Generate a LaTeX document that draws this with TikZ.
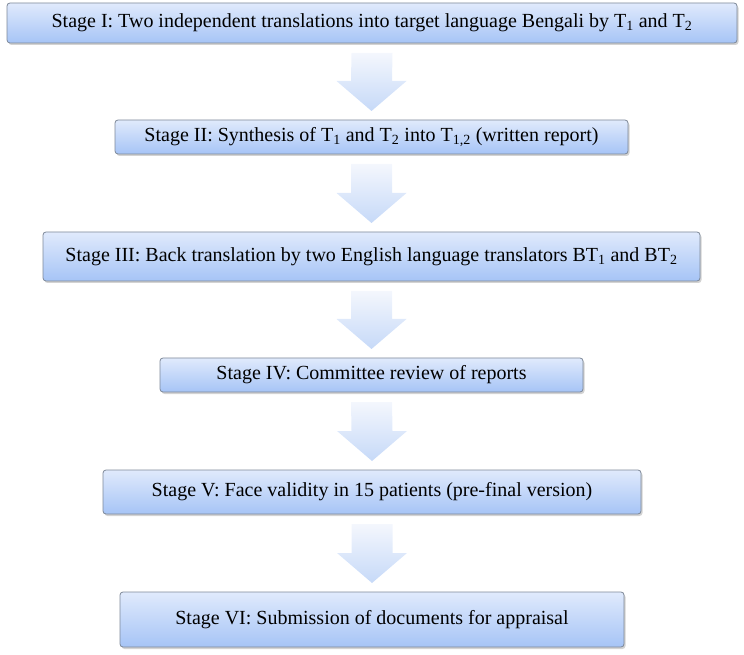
\documentclass[tikz,border=0pt]{standalone}
\usepackage{fontspec}
\setmainfont{Liberation Serif}
\usetikzlibrary{shadows}

\definecolor{boxtop}{HTML}{E0EAFC}
\definecolor{boxbot}{HTML}{A6C4F6}
\definecolor{boxline}{HTML}{7D8898}
\definecolor{arrtop}{HTML}{F4F7FD}
\definecolor{arrbot}{HTML}{C6D9F8}

\begin{document}
\begin{tikzpicture}[
 x=1pt, y=1pt,
 font=\fontsize{20}{23}\selectfont,
 stage/.style = {rectangle, rounded corners=3pt, draw=boxline, line width=0.8pt,
                 top color=boxtop, bottom color=boxbot,% blue gradient of each box
                 drop shadow={shadow xshift=1.5pt, shadow yshift=-2pt, opacity=0.35},
                 inner sep=0pt, outer sep=0pt,
                 minimum width=#1},
 arr/.style   = {top color=arrtop, bottom color=arrbot, draw=none},
                    ]
\useasboundingbox (0,0) rectangle (744,654);
\node[stage=730pt, minimum height=40pt] (s1) at (372,631)
  {Stage I: Two independent translations into target language Bengali by T\textsubscript{1} and T\textsubscript{2}};
\node[stage=513pt, minimum height=34pt] (s2) at (371.5,517)
  {Stage II: Synthesis of T\textsubscript{1} and T\textsubscript{2} into T\textsubscript{1,2} (written report)};
\node[stage=657pt, minimum height=49pt] (s3) at (371.5,397.5)
  {Stage III: Back translation by two English language translators BT\textsubscript{1} and BT\textsubscript{2}};
\node[stage=423pt, minimum height=34pt] (s4) at (371.5,279)
  {Stage IV: Committee review of reports};
\node[stage=538pt, minimum height=44pt] (s5) at (372,162)
  {Stage V: Face validity in 15 patients (pre-final version)};
\node[stage=504pt, minimum height=55pt] (s6) at (372,34.5)
  {Stage VI: Submission of documents for appraisal};
% block arrows between the stages
\foreach \a/\b in {s1/s2,s2/s3,s3/s4,s4/s5,s5/s6}
  \shade[arr] ([xshift=-20.5pt,yshift=-10pt]\a.south) -- ([xshift=20.5pt,yshift=-10pt]\a.south)
     -- ([xshift=20.5pt,yshift=39pt]\b.north) -- ([xshift=35pt,yshift=39pt]\b.north)
     -- ([yshift=9pt]\b.north) -- ([xshift=-35pt,yshift=39pt]\b.north)
     -- ([xshift=-20.5pt,yshift=39pt]\b.north) -- cycle;
\end{tikzpicture}
\end{document}
